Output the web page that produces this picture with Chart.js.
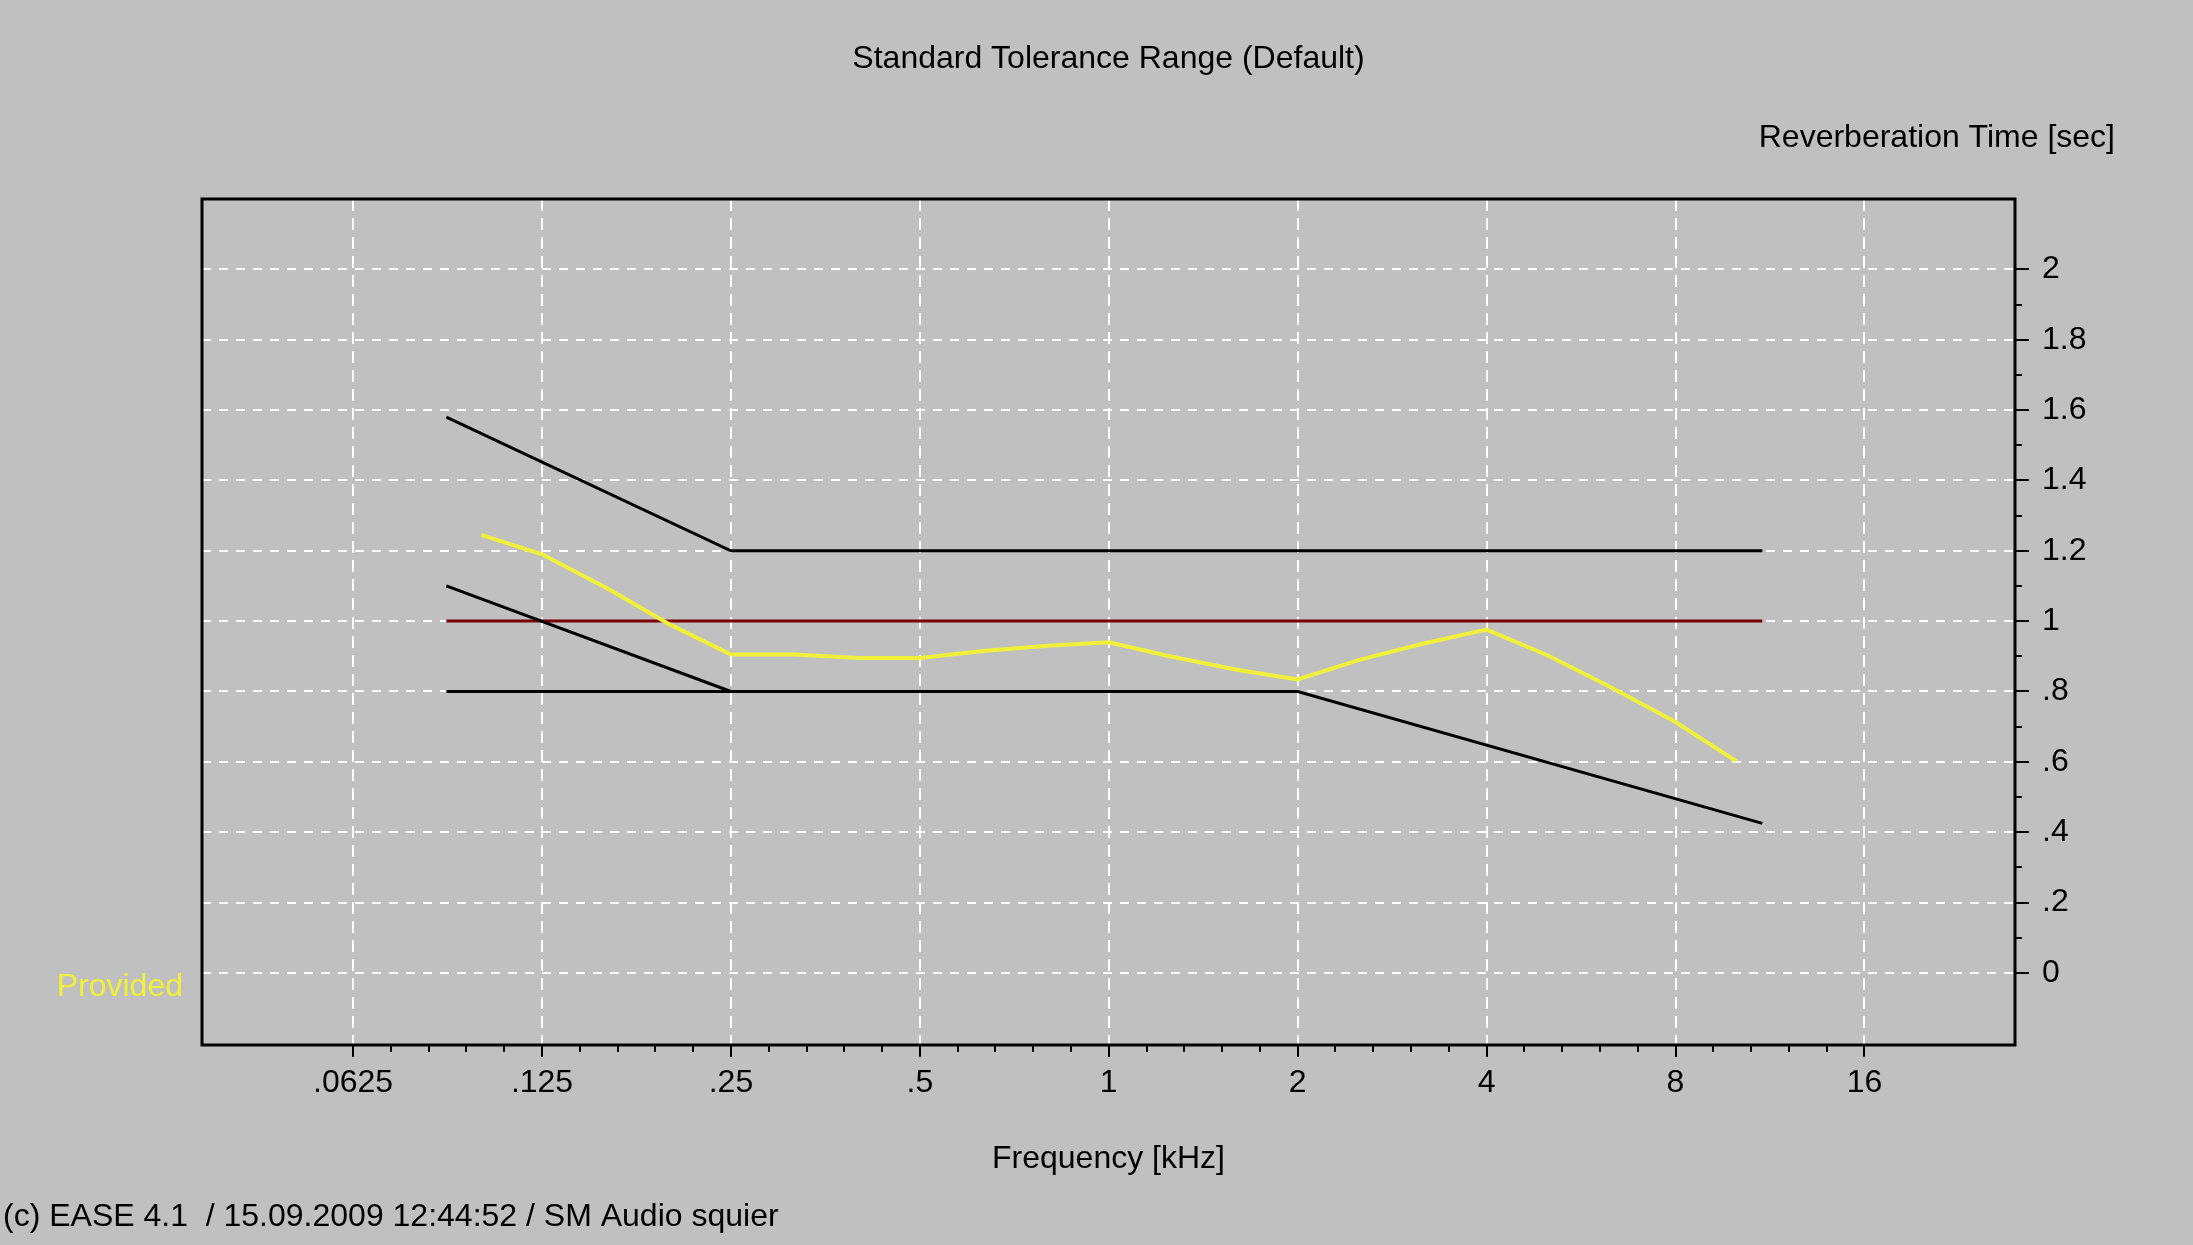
<!DOCTYPE html>
<html>
<head>
<meta charset="utf-8">
<script src="https://cdn.jsdelivr.net/npm/chart.js@4.4.0/dist/chart.umd.min.js"></script>
<style>
  html, body { margin: 0; padding: 0; background: #c0c0c0; }
  #wrap { width: 2193px; height: 1245px; }
</style>
</head>
<body>
<div id="wrap"><canvas id="rtChart"></canvas></div>
<script>
// frequency axis in kHz, one tick per octave
const xTicks = [0.0625, 0.125, 0.25, 0.5, 1, 2, 4, 8, 16];
const xTickLabels = ['.0625', '.125', '.25', '.5', '1', '2', '4', '8', '16'];
const yTicks = [0, 0.2, 0.4, 0.6, 0.8, 1, 1.2, 1.4, 1.6, 1.8, 2];
const yTickLabels = ['0', '.2', '.4', '.6', '.8', '1', '1.2', '1.4', '1.6', '1.8', '2'];

// measured reverberation time, 1/3 octave bands
const bandFreqs = [0.1, 0.125, 0.16, 0.2, 0.25, 0.315, 0.4, 0.5, 0.63, 0.8, 1, 1.25, 1.6, 2, 2.5, 3.15, 4, 5, 6.3, 8, 10];
const providedRT = [1.245, 1.19, 1.09, 0.99, 0.905, 0.905, 0.895, 0.895, 0.915, 0.93, 0.94, 0.90, 0.862, 0.834, 0.889, 0.935, 0.976, 0.903, 0.813, 0.713, 0.602];

// tolerance range
const upperFreqs = [0.088, 0.25, 11];
const upperRT = [1.58, 1.2, 1.2];
const lowerFreqs = [0.088, 2, 11];
const lowerRT = [0.8, 0.8, 0.425];
const slopeFreqs = [0.088, 0.25];
const slopeRT = [1.1, 0.8];
const targetFreqs = [0.088, 11];
const targetRT = [1, 1];

const FONT = 'Liberation Sans';

function toPoints(xs, ys) {
    return xs.map((x, i) => ({ x: x, y: ys[i] }));
}

function lineSet(label, xs, ys, color, width, order) {
    return {
        label: label,
        data: toPoints(xs, ys),
        borderColor: color,
        borderWidth: width,
        pointRadius: 0,
        tension: 0,
        fill: false,
        order: order
    };
}

// frame, minor ticks and the free texts
const decorations = {
    id: 'decorations',
    afterDraw(chart) {
        const { ctx, chartArea: a, scales: { x, y } } = chart;
        ctx.save();
        ctx.strokeStyle = '#000';
        ctx.lineWidth = 2;
        ctx.beginPath();
        for (let i = 0; i < xTicks.length - 1; i++) {
            for (let k = 1; k < 5; k++) {
                const px = Math.round(x.getPixelForValue(xTicks[i] * Math.pow(2, k / 5)));
                ctx.moveTo(px, a.bottom);
                ctx.lineTo(px, a.bottom + 7);
            }
        }
        for (let i = 0; i < yTicks.length - 1; i++) {
            const py = Math.round(y.getPixelForValue((yTicks[i] + yTicks[i + 1]) / 2));
            ctx.moveTo(a.right, py);
            ctx.lineTo(a.right + 7, py);
        }
        ctx.stroke();

        ctx.lineWidth = 3;
        ctx.strokeRect(a.left, a.top, a.right - a.left, a.bottom - a.top);

        ctx.font = '32px "' + FONT + '"';
        ctx.textBaseline = 'middle';
        ctx.fillStyle = '#000';
        ctx.textAlign = 'center';
        ctx.fillText('Standard Tolerance Range (Default)', (a.left + a.right) / 2, 59);
        ctx.textAlign = 'right';
        ctx.fillText('Reverberation Time [sec]', a.right + 100, 138);
        ctx.textAlign = 'left';
        ctx.fillText('(c) EASE 4.1  / 15.09.2009 12:44:52 / SM Audio squier', 3, 1217);
        ctx.textAlign = 'right';
        ctx.fillStyle = '#f0f03a';
        ctx.fillText('Provided', a.left - 19, 987);
        ctx.restore();
    }
};

new Chart(document.getElementById('rtChart'), {
    type: 'line',
    data: {
        datasets: [
            lineSet('Provided', bandFreqs, providedRT, '#f0f03a', 4, 0),
            lineSet('Upper limit', upperFreqs, upperRT, '#000000', 3, 1),
            lineSet('Lower limit', lowerFreqs, lowerRT, '#000000', 3, 1),
            lineSet('Lower limit (bass)', slopeFreqs, slopeRT, '#000000', 3, 1),
            lineSet('Target', targetFreqs, targetRT, '#7a0000', 3, 2)
        ]
    },
    options: {
        responsive: true,
        maintainAspectRatio: false,
        animation: false,
        layout: { padding: { left: 202, top: 199, right: 0, bottom: 0 } },
        plugins: {
            legend: { display: false },
            tooltip: { enabled: false }
        },
        scales: {
            x: {
                type: 'logarithmic',
                position: 'bottom',
                min: 0.0359,
                max: 27.8,
                afterBuildTicks: (s) => { s.ticks = xTicks.map(v => ({ value: v })); },
                afterFit: (s) => { s.height = 200; },
                ticks: {
                    autoSkip: false,
                    maxRotation: 0,
                    padding: 7,
                    color: '#000',
                    font: { family: FONT, size: 32 },
                    callback: (v, i) => xTickLabels[i]
                },
                grid: { color: '#ffffff', lineWidth: 2, tickColor: '#000', tickWidth: 2, tickLength: 12 },
                border: { display: false, dash: [12, 7] },
                title: {
                    display: true,
                    text: 'Frequency [kHz]',
                    color: '#000',
                    font: { family: FONT, size: 32 },
                    padding: { top: 0, bottom: 67 }
                }
            },
            y: {
                type: 'linear',
                position: 'right',
                min: -0.205,
                max: 2.2,
                afterBuildTicks: (s) => { s.ticks = yTicks.map(v => ({ value: v })); },
                afterFit: (s) => { s.width = 178; },
                ticks: {
                    padding: 13,
                    color: '#000',
                    font: { family: FONT, size: 32 },
                    callback: (v, i) => yTickLabels[i]
                },
                grid: { color: '#ffffff', lineWidth: 2, tickColor: '#000', tickWidth: 2, tickLength: 14 },
                border: { display: false, dash: [9, 8] }
            }
        }
    },
    plugins: [decorations]
});
</script>
</body>
</html>
